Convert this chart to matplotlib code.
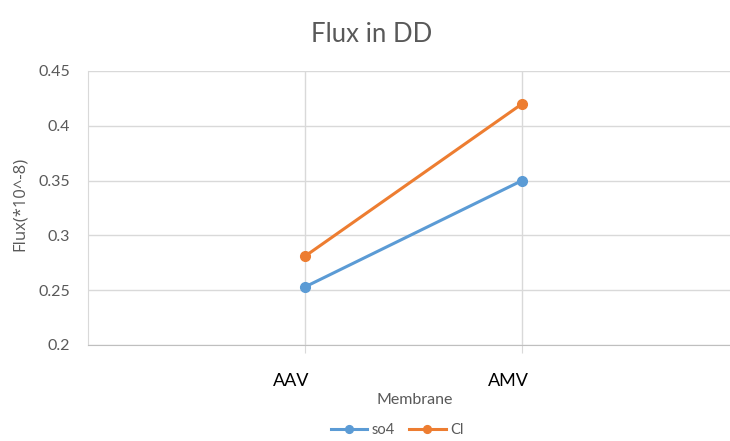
import matplotlib
matplotlib.use("Agg")
import matplotlib.pyplot as plt
from matplotlib.transforms import ScaledTranslation

categories = ["AAV", "AMV"]
so4 = [0.253, 0.350]
cl = [0.281, 0.420]
yticks = [0.2, 0.25, 0.3, 0.35, 0.4, 0.45]
ytick_labels = ["0.2", "0.25", "0.3", "0.35", "0.4", "0.45"]

plt.rcParams['font.family'] = ['Lato', 'DejaVu Sans']

fig = plt.figure(figsize=(7.3, 4.41), dpi=100)
ax = fig.add_axes([88/730, (441-345)/441, (739-88)/730, (345-71)/441])

blue = "#5B9BD5"
orange = "#ED7D31"
grid = "#D9D9D9"
textc = "#595959"

x = [1, 2]
ax.plot(x, so4, color=blue, lw=2.2, marker="o", ms=7, label="so4", zorder=3)
ax.plot(x, cl, color=orange, lw=2.2, marker="o", ms=7, label="Cl", zorder=3)

ax.set_xlim(0, 3)
ax.set_ylim(0.2, 0.45)
ax.set_yticks(yticks)
ax.set_yticklabels(ytick_labels)
ax.set_xticks(x)
ax.set_xticklabels(categories)

ax.grid(True, color=grid, lw=1.0)
ax.set_axisbelow(True)
for s in ["top", "right"]:
    ax.spines[s].set_visible(False)
ax.spines["left"].set_color(grid)
ax.spines["bottom"].set_color("#BFBFBF")
ax.tick_params(axis="y", length=0, pad=13, labelsize=11.5, labelcolor=textc)
ax.tick_params(axis="x", length=6, color=grid, pad=14, labelsize=13, labelcolor="black")
for lab in ax.get_xticklabels():
    lab.set_transform(lab.get_transform() + ScaledTranslation(-14/100, 0, fig.dpi_scale_trans))

fig.text(20/730, 1-204/441, "Flux(*10^-8)", rotation=90, ha="center", va="center",
         fontsize=12, color=textc, family=["Open Sans", "DejaVu Sans"])

fig.text(415/730, 1-400/441, "Membrane", ha="center", va="center", fontsize=11.5, color=textc)

fig.text(372/730, 1-35/441, "Flux in DD", ha="center", va="center", fontsize=18.5, color=textc)

leg = fig.legend(loc="center", bbox_to_anchor=(397/730, 1-430/441), ncol=2, frameon=False,
                 fontsize=10.5, handlelength=2.5, columnspacing=1.0, handletextpad=0.3,
                 markerscale=0.8)
for t in leg.get_texts():
    t.set_color(textc)

fig.savefig("out.png", dpi=100)
